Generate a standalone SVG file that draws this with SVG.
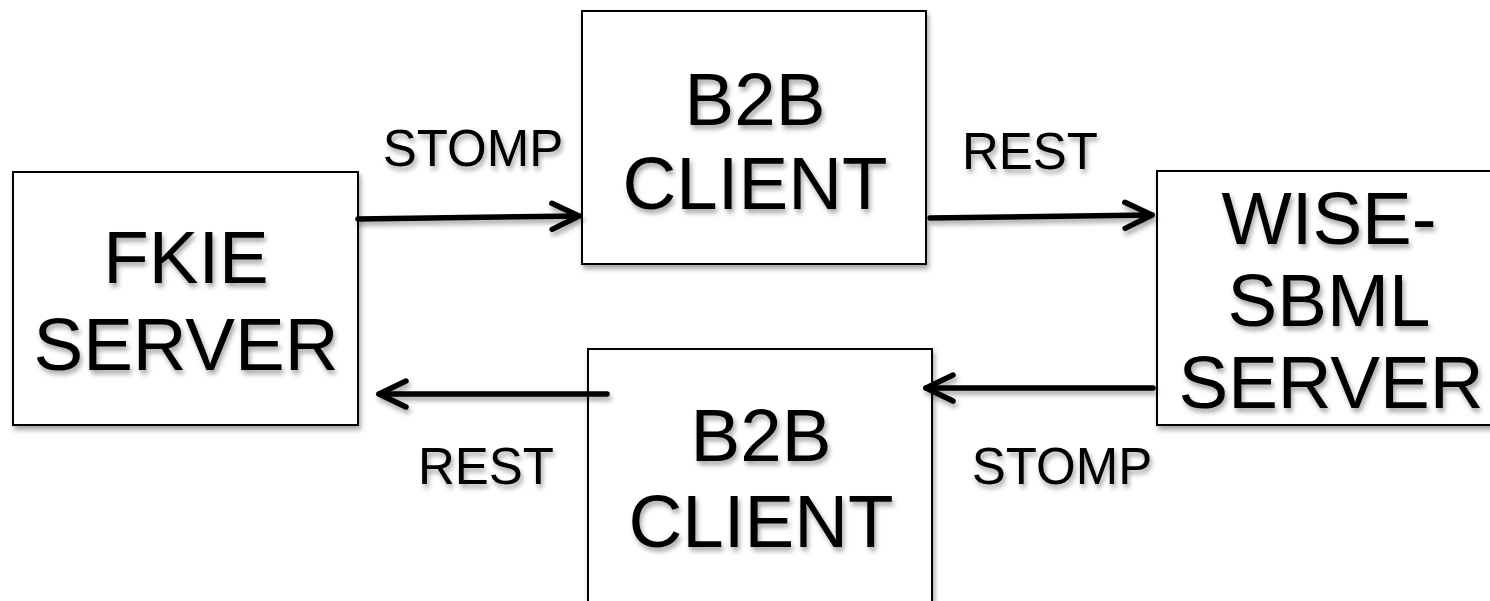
<svg xmlns="http://www.w3.org/2000/svg" width="1490" height="601" viewBox="0 0 1490 601">
<defs>
<filter id="sh" x="-10%" y="-10%" width="130%" height="140%">
<feDropShadow dx="2" dy="4" stdDeviation="2.5" flood-color="#000" flood-opacity="0.35"/>
</filter>
<marker id="arr" viewBox="-34 -20 40 40" refX="0" refY="0" markerWidth="40" markerHeight="40" markerUnits="userSpaceOnUse" orient="auto">
<path d="M -27,-13 L 0,0 L -27,13" fill="none" stroke="#000" stroke-width="5.5" stroke-linecap="round" stroke-linejoin="round"/>
</marker>
<style>
.box{fill:#fff;stroke:#000;stroke-width:2}
.t{font-family:"Liberation Sans",Arial,Helvetica,sans-serif;font-size:74.5px;fill:#000;text-anchor:middle}
.l{font-family:"Liberation Sans",Arial,Helvetica,sans-serif;font-size:51px;fill:#000;text-anchor:middle}
.c{fill:none;stroke:#000;stroke-width:5.5;stroke-linecap:round}
</style>
</defs>
<rect width="1490" height="601" fill="#fff"/>
<g id="fkie">
<rect class="box" x="13" y="172" width="345" height="253" filter="url(#sh)"/>
<g filter="url(#sh)"><text class="t" x="186" y="283">FKIE</text><text class="t" x="186" y="370">SERVER</text></g>
</g>
<g id="b2b-top">
<rect class="box" x="582" y="11" width="344" height="253" filter="url(#sh)"/>
<g filter="url(#sh)"><text class="t" x="755" y="125">B2B</text><text class="t" x="755" y="209">CLIENT</text></g>
</g>
<g id="wise">
<rect class="box" x="1157" y="171" width="350" height="254" filter="url(#sh)"/>
<g filter="url(#sh)"><text class="t" x="1329" y="244">WISE-</text><text class="t" x="1329" y="326">SBML</text><text class="t" x="1331" y="408">SERVER</text></g>
</g>
<g id="b2b-bottom">
<rect class="box" x="588" y="349" width="344" height="270" filter="url(#sh)"/>
<g filter="url(#sh)"><text class="t" x="761" y="461">B2B</text><text class="t" x="761" y="547">CLIENT</text></g>
</g>
<g id="connectors" filter="url(#sh)">
<path class="c" d="M 358,219 L 579,216" marker-end="url(#arr)"/>
<path class="c" d="M 930,218 L 1152,215" marker-end="url(#arr)"/>
<path class="c" d="M 607,394 L 379,394" marker-end="url(#arr)"/>
<path class="c" d="M 1153,388 L 926,388" marker-end="url(#arr)"/>
</g>
<g id="labels" filter="url(#sh)">
<text class="l" x="473" y="166">STOMP</text>
<text class="l" x="1030" y="169">REST</text>
<text class="l" x="486" y="484">REST</text>
<text class="l" x="1062" y="484">STOMP</text>
</g>
</svg>
